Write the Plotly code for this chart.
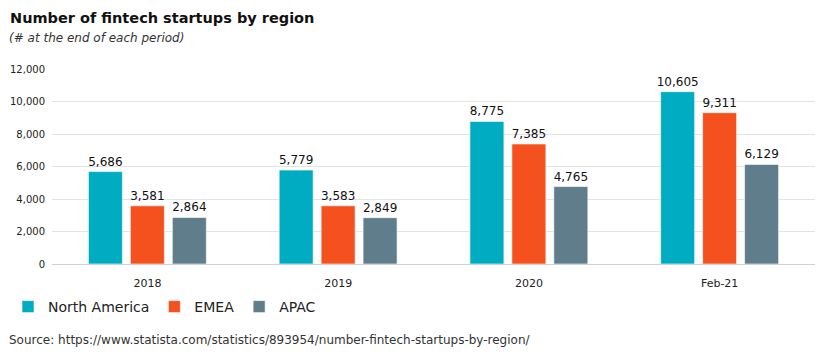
import plotly.graph_objects as go

categories = ["2018", "2019", "2020", "Feb-21"]
north_america = [5686, 5779, 8775, 10605]
emea = [3581, 3583, 7385, 9311]
apac = [2864, 2849, 4765, 6129]
y_ticks = [0, 2000, 4000, 6000, 8000, 10000, 12000]
y_tick_labels = ["0", "2,000", "4,000", "6,000", "8,000", "10,000", "12,000"]

FONT = "DejaVu Sans"
series = [("North America", north_america, "#00ACC1"),
          ("EMEA", emea, "#F4511E"),
          ("APAC", apac, "#607D8B")]

# page body has an 8px default margin, so the figure is drawn 8px in from the window edge
OFF = 8
W, H = 830 - OFF, 359 - OFF
L, R, T, B = 52 - OFF, 15, 69 - OFF, 95
PW, PH = W - L - R, H - T - B

def px_x(x):
    return (x - OFF - L) / PW

def px_y(y):
    return (H - B - (y - OFF)) / PH

fig = go.Figure()
for name, vals, color in series:
    fig.add_trace(go.Bar(
        x=categories, y=vals, name=name,
        marker=dict(color=color, line=dict(color="rgba(255,255,255,0.6)", width=1)),
        text=[f"{v:,}" for v in vals], textposition="outside",
        textfont=dict(family=FONT, size=12, color="#111111"),
        cliponaxis=False, constraintext="none",
    ))

fig.update_layout(
    width=W, height=H,
    margin=dict(l=L, r=R, t=T, b=B, autoexpand=False),
    paper_bgcolor="white", plot_bgcolor="white",
    barmode="group", bargap=0.34, bargroupgap=0.19,
    font=dict(family=FONT, size=11, color="#222222"),
    showlegend=True,
    legend=dict(orientation="h", x=-12 / W, xanchor="left", xref="container",
                y=1 - (307 - OFF) / H, yanchor="middle", yref="container",
                font=dict(family=FONT, size=14, color="#222222"),
                itemwidth=30, traceorder="normal"),
    xaxis=dict(showgrid=False, showline=False, ticks="", automargin=False,
               ticklabelstandoff=11,
               tickfont=dict(family=FONT, size=11, color="#222222")),
    yaxis=dict(range=[0, 12000], tickvals=y_ticks, ticktext=y_tick_labels,
               showgrid=True, gridcolor="#e3e3e3", gridwidth=1,
               zeroline=True, zerolinecolor="#d0d0d0", zerolinewidth=1,
               ticks="", ticklabelstandoff=6, automargin=False,
               tickfont=dict(family=FONT, size=10, color="#222222")),
    annotations=[
        dict(text="<b>Number of fintech startups by region</b>", xref="paper", yref="paper",
             x=px_x(8), y=px_y(18), xanchor="left", yanchor="middle", showarrow=False,
             font=dict(family=FONT, size=14.5, color="#111111")),
        dict(text="<i>(# at the end of each period)</i>", xref="paper", yref="paper",
             x=px_x(7), y=px_y(38), xanchor="left", yanchor="middle", showarrow=False,
             font=dict(family=FONT, size=12, color="#333333")),
        dict(text="Source: https://www.statista.com/statistics/893954/number-fintech-startups-by-region/",
             xref="paper", yref="paper",
             x=px_x(7), y=px_y(340), xanchor="left", yanchor="middle", showarrow=False,
             font=dict(family=FONT, size=12, color="#333333")),
    ],
)

fig.write_html("out.html")
